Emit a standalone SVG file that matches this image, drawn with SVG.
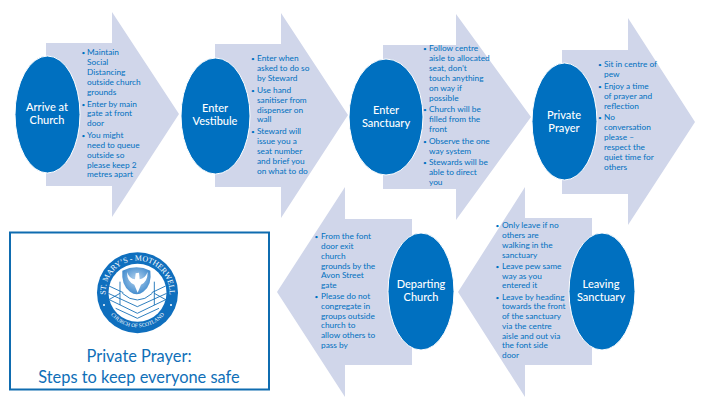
<svg xmlns="http://www.w3.org/2000/svg" width="720" height="405" viewBox="0 0 720 405">
<style>
.arrow{fill:#d0d6ea}
.oval{fill:#0070c0;stroke:#fff;stroke-width:1}
.lab{font-family:Lato,"Open Sans",sans-serif;font-size:11px;font-weight:500;fill:#fff;text-anchor:middle}
.list{font-family:Lato,"Open Sans",sans-serif;font-size:8.3px;fill:#0070c0}
.dot{font-size:6.5px}
.title{font-family:Lato,"Open Sans",sans-serif;font-size:16.4px;fill:#0f6fb8;text-anchor:middle}
.seal{font-family:"Liberation Serif",serif;fill:#fff}
.ln{fill:none;stroke:#0f6cb5;stroke-width:2.6}
</style>
<defs>
<radialGradient id="dove" cx="50%" cy="45%" r="60%"><stop offset="0" stop-color="#b5d3ee"/><stop offset="1" stop-color="#3a87cc"/></radialGradient>
<path id="sealTop" d="M109.8 308.7A32 32 0 1 1 165.2 308.7"/>
<path id="sealBottom" d="M107 309A34.5 34.5 0 0 0 168 309"/>
</defs>
<rect width="720" height="405" fill="#fff"/>

<g id="arrive">
<path class="arrow" d="M46 43H112V12L179 114L112 217V186H46Z"/>
<ellipse class="oval" cx="47.5" cy="114.5" rx="32.5" ry="58.5"/>
<text class="lab"><tspan x="47" y="111">Arrive at</tspan><tspan x="47" y="124">Church</tspan></text>
<text class="list"><tspan class="dot" x="81.5" y="54.5">•</tspan><tspan x="87" y="55">Maintain</tspan><tspan x="87" y="65">Social</tspan><tspan x="87" y="75">Distancing</tspan><tspan x="87" y="85">outside church</tspan><tspan x="87" y="95">grounds</tspan><tspan class="dot" x="81.5" y="106.5">•</tspan><tspan x="87" y="107">Enter by main</tspan><tspan x="87" y="116">gate at front</tspan><tspan x="87" y="126">door</tspan><tspan class="dot" x="81.5" y="137.5">•</tspan><tspan x="87" y="138">You might</tspan><tspan x="87" y="148">need to queue</tspan><tspan x="87" y="158">outside so</tspan><tspan x="87" y="168">please keep 2</tspan><tspan x="87" y="177">metres apart</tspan></text>
</g>

<g id="vestibule">
<path class="arrow" d="M215 44H281V13L348 115L281 218V187H215Z"/>
<ellipse class="oval" cx="215.5" cy="116" rx="34.5" ry="58"/>
<text class="lab"><tspan x="215" y="112">Enter</tspan><tspan x="215" y="125">Vestibule</tspan></text>
<text class="list"><tspan class="dot" x="251" y="60.5">•</tspan><tspan x="257" y="61">Enter when</tspan><tspan x="257" y="71">asked to do so</tspan><tspan x="257" y="81">by Steward</tspan><tspan class="dot" x="251" y="92.5">•</tspan><tspan x="257" y="93">Use hand</tspan><tspan x="257" y="103">sanitiser from</tspan><tspan x="257" y="113">dispenser on</tspan><tspan x="257" y="122">wall</tspan><tspan class="dot" x="251" y="133.5">•</tspan><tspan x="257" y="134">Steward will</tspan><tspan x="257" y="144">issue you a</tspan><tspan x="257" y="154">seat number</tspan><tspan x="257" y="164">and brief you</tspan><tspan x="257" y="174">on what to do</tspan></text>
</g>

<g id="sanctuary">
<path class="arrow" d="M383 45H456V14L531 117L456 220V189H383Z"/>
<ellipse class="oval" cx="386" cy="117" rx="37" ry="58"/>
<text class="lab"><tspan x="386" y="114">Enter</tspan><tspan x="386" y="127">Sanctuary</tspan></text>
<text class="list"><tspan class="dot" x="423" y="50.5">•</tspan><tspan x="429" y="51">Follow centre</tspan><tspan x="429" y="61">aisle to allocated</tspan><tspan x="429" y="71">seat, don’t</tspan><tspan x="429" y="81">touch anything</tspan><tspan x="429" y="91">on way if</tspan><tspan x="429" y="101">possible</tspan><tspan class="dot" x="423" y="111.5">•</tspan><tspan x="429" y="112">Church will be</tspan><tspan x="429" y="122">filled from the</tspan><tspan x="429" y="132">front</tspan><tspan class="dot" x="423" y="143.5">•</tspan><tspan x="429" y="144">Observe the one</tspan><tspan x="429" y="154">way system</tspan><tspan class="dot" x="423" y="164.5">•</tspan><tspan x="429" y="165">Stewards will be</tspan><tspan x="429" y="175">able to direct</tspan><tspan x="429" y="185">you</tspan></text>
</g>

<g id="private">
<path class="arrow" d="M562 50H628V18L695 122L628 225V194H562Z"/>
<ellipse class="oval" cx="564.5" cy="121.5" rx="32.5" ry="58.5"/>
<text class="lab"><tspan x="564" y="119">Private</tspan><tspan x="564" y="132">Prayer</tspan></text>
<text class="list"><tspan class="dot" x="598" y="66.5">•</tspan><tspan x="604" y="67">Sit in centre of</tspan><tspan x="604" y="77">pew</tspan><tspan class="dot" x="598" y="88.5">•</tspan><tspan x="604" y="89">Enjoy a time</tspan><tspan x="604" y="99">of prayer and</tspan><tspan x="604" y="109">reflection</tspan><tspan class="dot" x="598" y="119.5">•</tspan><tspan x="604" y="120">No</tspan><tspan x="604" y="130">conversation</tspan><tspan x="604" y="140">please –</tspan><tspan x="604" y="150">respect the</tspan><tspan x="604" y="160">quiet time for</tspan><tspan x="604" y="170">others</tspan></text>
</g>

<g id="leaving">
<path class="arrow" d="M592 218H525V187L458 292L525 397V365H592Z"/>
<ellipse class="oval" cx="602" cy="291.5" rx="33" ry="58.5"/>
<text class="lab"><tspan x="601" y="288">Leaving</tspan><tspan x="601" y="301">Sanctuary</tspan></text>
<text class="list"><tspan class="dot" x="495.5" y="227.5">•</tspan><tspan x="502" y="228">Only leave if no</tspan><tspan x="502" y="238">others are</tspan><tspan x="502" y="248">walking in the</tspan><tspan x="502" y="258">sanctuary</tspan><tspan class="dot" x="495.5" y="268.5">•</tspan><tspan x="502" y="269">Leave pew same</tspan><tspan x="502" y="279">way as you</tspan><tspan x="502" y="288">entered it</tspan><tspan class="dot" x="495.5" y="299.5">•</tspan><tspan x="502" y="300">Leave by heading</tspan><tspan x="502" y="309">towards the front</tspan><tspan x="502" y="319">of the sanctuary</tspan><tspan x="502" y="329">via the centre</tspan><tspan x="502" y="339">aisle and out via</tspan><tspan x="502" y="348">the font side</tspan><tspan x="502" y="358">door</tspan></text>
</g>

<g id="departing">
<path class="arrow" d="M412 219H345V187L277 292L345 397V365H412Z"/>
<ellipse class="oval" cx="421" cy="291.5" rx="33" ry="58.5"/>
<text class="lab"><tspan x="421" y="288">Departing</tspan><tspan x="421" y="301">Church</tspan></text>
<text class="list"><tspan class="dot" x="314.5" y="238.5">•</tspan><tspan x="321" y="239">From the font</tspan><tspan x="321" y="249">door exit</tspan><tspan x="321" y="259">church</tspan><tspan x="321" y="269">grounds by the</tspan><tspan x="321" y="278">Avon Street</tspan><tspan x="321" y="288">gate</tspan><tspan class="dot" x="314.5" y="298.5">•</tspan><tspan x="321" y="299">Please do not</tspan><tspan x="321" y="309">congregate in</tspan><tspan x="321" y="319">groups outside</tspan><tspan x="321" y="328">church to</tspan><tspan x="321" y="338">allow others to</tspan><tspan x="321" y="348">pass by</tspan></text>
</g>

<g id="titlebox">
<rect x="10" y="232.5" width="259" height="157" fill="#fff" stroke="#0f6cb0" stroke-width="2"/>
<circle cx="137.5" cy="292.7" r="40.5" fill="#0f6fbe"/>
<circle cx="137.5" cy="292.7" r="29" fill="#fff"/>
<text class="seal" font-size="7.9"><textPath href="#sealTop" startOffset="50%" text-anchor="middle">ST. MARY’S - MOTHERWELL</textPath></text>
<text class="seal" font-size="5.4"><textPath href="#sealBottom" startOffset="50%" text-anchor="middle">CHURCH OF SCOTLAND</textPath></text>
<circle cx="104" cy="305" r="1" fill="#fff"/><circle cx="171" cy="305" r="1" fill="#fff"/>
<g transform="translate(95 250) scale(.3333)">
<path class="ln" d="M42 108L85 128M212 108L170 128M40 130L127 170L215 130M45 150L127 190L210 150M62 175L127 205L192 175M75 95V165M178 95V165M40 150L75 130M214 150L178 130M82 130Q127 170 172 130"/>
<path d="M82 62Q125 42 166 62Q172 105 145 125Q125 140 105 125Q78 105 82 62Z" fill="url(#dove)"/>
<path d="M96 66Q104 88 120 88L122 70L132 68L134 88Q150 86 158 66Q158 96 138 104L128 128L118 104Q96 96 96 66Z" fill="#fff"/>
</g>
<text class="title"><tspan x="139" y="362">Private Prayer:</tspan><tspan x="139" y="383">Steps to keep everyone safe</tspan></text>
</g>
<g id="connectors"/>
</svg>
